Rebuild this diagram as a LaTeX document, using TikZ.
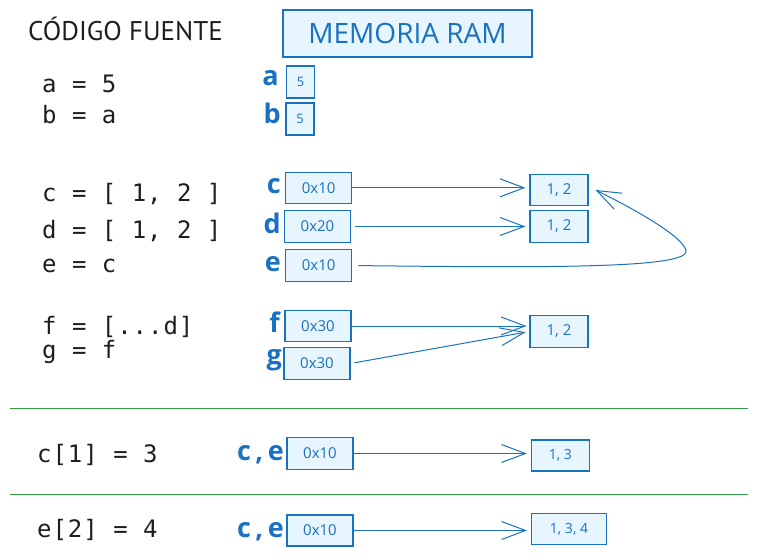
\documentclass[tikz,border=0pt]{standalone}
\usepackage{fontspec}
\setmainfont{Open Sans}
\newfontfamily\codefont[LetterSpace=4]{DejaVu Sans Mono}
\newfontfamily\titlefont{PT Sans}
\usetikzlibrary{arrows.meta}
\definecolor{exblue}{HTML}{1971C2}
\definecolor{exfill}{HTML}{E7F5FF}
\definecolor{exgreen}{HTML}{2F9E44}
\definecolor{exblack}{HTML}{1E1E1E}
\begin{document}
\begin{tikzpicture}[x=1pt,y=-1pt,
  mem/.style={draw=exblue, fill=exfill, line width=1.1pt, inner sep=0pt, text=exblue,
    font=\fontsize{15}{15}\selectfont},
  code/.style={anchor=base west, text=exblack, inner sep=0pt,
    font=\codefont\fontsize{24}{24}\selectfont},
  var/.style={anchor=base east, text=exblue, inner sep=0pt,
    font=\fontsize{27}{27}\selectfont\bfseries},
  ptr/.style={draw=exblue, line width=1pt, -{Straight Barb[length=24pt,width=18pt]}},
  sepline/.style={draw=exgreen, line width=1pt}]
\useasboundingbox (0,0) rectangle (759,559);

% headings
\node[anchor=base west, inner sep=0pt, text=exblack, font=\titlefont\fontsize{27}{27}\selectfont] (title) at (28,41) {CÓDIGO FUENTE};
\node[mem, minimum width=249, minimum height=47, font=\fontsize{28}{28}\selectfont] (ram) at (407.5,33.5) {MEMORIA RAM};

% code
\node[code] (la) at (42,93) {a = 5};
\node[code] (lb) at (42,124) {b = a};
\node[code] (lc) at (42,201) {c = [ 1, 2 ]};
\node[code] (ld) at (42,238) {d = [ 1, 2 ]};
\node[code] (le) at (42,272) {e = c};
\node[code] (lf) at (42,334) {f = [...d]};
\node[code] (lg) at (42,358) {g = f};
\node[code] (lc1) at (37,462) {c[1] = 3};
\node[code] (le2) at (37,537) {e[2] = 4};

% variable labels
\node[var] (na) at (279,85) {a};
\node[var] (nb) at (281,123) {b};
\node[var] (nc) at (281,193) {c};
\node[var] (nd) at (281,233) {d};
\node[var] (ne) at (281,271) {e};
\node[var] (nf) at (280,332) {f};
\node[var] (ng) at (282,364) {g};
\node[var] (nce1) at (284,460) {c\,,\,e};
\node[var] (nce2) at (284,537) {c\,,\,e};

% memory boxes
\node[mem, minimum width=28, minimum height=32, font=\fontsize{13}{13}\selectfont] (ma) at (300.5,82) {5};
\node[mem, minimum width=28, minimum height=32, font=\fontsize{13}{13}\selectfont] (mb) at (300,119) {5};
\node[mem, minimum width=66, minimum height=31] (pc) at (318.7,187.8) {0x10};
\node[mem, minimum width=66, minimum height=31.6] (pd) at (317.5,226.5) {0x20};
\node[mem, minimum width=66, minimum height=32.4] (pe) at (318.7,265.5) {0x10};
\node[mem, minimum width=58, minimum height=31.7] (v1) at (559,190) {1, 2};
\node[mem, minimum width=58, minimum height=31.6] (v2) at (559,226.5) {1, 2};
\node[mem, minimum width=66, minimum height=31.7] (pf) at (318,326) {0x30};
\node[mem, minimum width=66, minimum height=31.6] (pg) at (317,363.5) {0x30};
\node[mem, minimum width=58, minimum height=31.6] (v3) at (559,331.5) {1, 2};
\node[mem, minimum width=66, minimum height=31.6] (pc2) at (320,453.5) {0x10};
\node[mem, minimum width=58, minimum height=31, font=\fontsize{14}{14}\selectfont] (v4) at (560.4,455.5) {1, 3};
\node[mem, minimum width=66, minimum height=31] (pe2) at (320,530.5) {0x10};
\node[mem, minimum width=75, minimum height=31.7, font=\fontsize{14}{14}\selectfont] (v5) at (569,529) {1, 3, 4};

% pointers
\draw[ptr, shorten >=4pt] (pc.east) -- (pc.east -| v1.west);
\draw[ptr, shorten <=4pt, shorten >=4pt] (pd.east) -- (pd.east -| v2.west);
\coordinate (etip) at ([xshift=7pt]v1.east);
\draw[ptr, shorten <=6pt] (pe.east) .. controls (560,268) and (692,268) .. (686,250)
  .. controls (681,236) and (640,212) .. (etip);
\draw[ptr, shorten >=3pt] (pf.east) -- (pf.east -| v3.west);
\draw[ptr, shorten <=4pt, shorten >=4pt] (pg.east) -- (v3.west);
\draw[ptr, shorten >=4pt] (pc2.east) -- (pc2.east -| v4.west);
\draw[ptr, shorten >=4pt] (pe2.east) -- (pe2.east -| v5.west);

% separators
\coordinate (s1a) at (10,408);
\coordinate (s1b) at (748,408);
\coordinate (s2a) at (10,494);
\coordinate (s2b) at (748,494);
\draw[sepline] (s1a) -- (s1b);
\draw[sepline] (s2a) -- (s2b);
\end{tikzpicture}
\end{document}
